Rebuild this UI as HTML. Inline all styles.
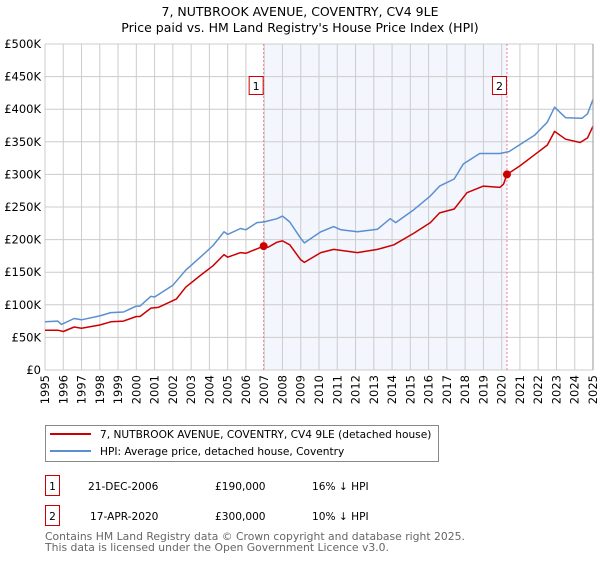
<!DOCTYPE html>
<html><head><meta charset="utf-8"><style>
body{margin:0;background:#fff;font-family:"DejaVu Sans","Liberation Sans",sans-serif;}
svg text{font-family:"DejaVu Sans","Liberation Sans",sans-serif;}
</style></head><body>
<svg id="chart" width="600" height="560" viewBox="0 0 600 560" xmlns="http://www.w3.org/2000/svg">
<text x="300" y="16" text-anchor="middle" font-size="12.5">7, NUTBROOK AVENUE, COVENTRY, CV4 9LE</text>
<text x="300" y="32" text-anchor="middle" font-size="12.5">Price paid vs. HM Land Registry's House Price Index (HPI)</text>
<g id="plot"></g>
<rect x="45.5" y="425.5" width="393" height="36" fill="#fff" stroke="#888"/>
<line x1="50" y1="434" x2="91" y2="434" stroke="#cc0000" stroke-width="2"/>
<text x="100" y="438" font-size="10.6">7, NUTBROOK AVENUE, COVENTRY, CV4 9LE (detached house)</text>
<line x1="50" y1="451" x2="91" y2="451" stroke="#5b8fd0" stroke-width="2"/>
<text x="100" y="455" font-size="10.6">HPI: Average price, detached house, Coventry</text>
<rect x="45.5" y="475.5" width="14" height="20" fill="#fff" stroke="#cc0000"/>
<text x="52.5" y="490" text-anchor="middle" font-size="10.6">1</text>
<text x="88" y="490" font-size="10.6">21-DEC-2006</text>
<text x="215" y="490" font-size="10.6">£190,000</text>
<text x="312" y="490" font-size="10.6">16% ↓ HPI</text>
<rect x="45.5" y="505.5" width="14" height="20" fill="#fff" stroke="#cc0000"/>
<text x="52.5" y="520" text-anchor="middle" font-size="10.6">2</text>
<text x="90" y="520" font-size="10.6">17-APR-2020</text>
<text x="215" y="520" font-size="10.6">£300,000</text>
<text x="312" y="520" font-size="10.6">10% ↓ HPI</text>
<text x="45" y="540" font-size="10.8" fill="#666">Contains HM Land Registry data © Crown copyright and database right 2025.</text>
<text x="45" y="551" font-size="10.8" fill="#666">This data is licensed under the Open Government Licence v3.0.</text>
</svg>
<script>
const yTicks=[0,50,100,150,200,250,300,350,400,450,500];
const yTickLabels=["£0","£50K","£100K","£150K","£200K","£250K","£300K","£350K","£400K","£450K","£500K"];
const xTicks=[1995,1996,1997,1998,1999,2000,2001,2002,2003,2004,2005,2006,2007,2008,2009,2010,2011,2012,2013,2014,2015,2016,2017,2018,2019,2020,2021,2022,2023,2024,2025];
const hpiYears=[1995,1995.7,1995.9,1996.6,1997,1998,1998.6,1999.3,2000,2000.2,2000.8,2001,2002,2002.7,2003.5,2004.2,2004.8,2005,2005.7,2006,2006.6,2006.97,2007.7,2008,2008.4,2009,2009.2,2010.1,2010.8,2011.2,2012.1,2013.2,2013.9,2014.2,2015.2,2016.1,2016.6,2017.4,2017.9,2018.8,2019.9,2020.4,2021.8,2022.5,2022.9,2023.5,2024.4,2024.7,2025];
const hpiValues=[74,75,70,79,77,83,88,89,98,98,113,112,130,153,173,191,212,208,217,215,226,227,232,236,227,202,195,212,220,215,212,216,232,226,246,267,282,293,316,332,332,335,360,380,403,387,386,393,415];
const priceYears=[1995,1995.7,1996,1996.6,1997,1998,1998.6,1999.3,2000,2000.2,2000.8,2001.2,2002.2,2002.7,2003.5,2004.2,2004.8,2005,2005.7,2006,2006.97,2007.2,2007.7,2008,2008.4,2009,2009.2,2010.1,2010.8,2012.1,2013.2,2014.1,2015.2,2016.1,2016.6,2017.4,2018.1,2019,2019.9,2020.1,2020.29,2021,2021.8,2022.5,2022.9,2023.5,2024.3,2024.7,2025];
const priceValues=[61,61,59,66,64,69,74,75,82,82,95,96,109,127,145,160,177,173,180,179,190,188,196,198,192,169,165,180,185,180,185,192,210,226,241,247,272,282,280,285,300,313,330,345,366,354,349,356,374];
const saleYears=[2006.97,2020.29];
const saleValues=[190,300];
const saleLabels=["1","2"];

const X0=45,X1=593,Y0=370,Y1=44;
const xs=y=>X0+(y-1995)/(2025-1995)*(X1-X0);
const ys=v=>Y0-v/500*(Y0-Y1);
const NS="http://www.w3.org/2000/svg";
const g=document.getElementById('plot');
function mk(t,a){const e=document.createElementNS(NS,t);for(const k in a)e.setAttribute(k,a[k]);g.appendChild(e);return e;}

let r=mk('rect',{x:xs(saleYears[0]),y:Y1,width:xs(saleYears[1])-xs(saleYears[0]),height:Y0-Y1,fill:'#f3f6fd'});



yTicks.forEach((v,i)=>{
 const l=mk('line',{x1:X0,x2:X1,y1:ys(v),y2:ys(v),stroke:'#cccccc','stroke-width':1});
 
 
 const t=mk('text',{x:X0-4,y:ys(v)+4,'text-anchor':'end','font-size':'11.5'});
 t.textContent=yTickLabels[i];
 
 
});
xTicks.forEach(yr=>{
 const l=mk('line',{x1:xs(yr),x2:xs(yr),y1:Y1,y2:Y0,stroke:'#cccccc','stroke-width':1});
 
 
 const t=mk('text',{x:0,y:0,'font-size':'11.5','text-anchor':'end',transform:`translate(${xs(yr)+4},${Y0+5}) rotate(-90)`});
 t.textContent=yr;
 
 
});
saleYears.forEach((yr,i)=>{
 const l=mk('line',{x1:xs(yr),x2:xs(yr),y1:Y1,y2:Y0,stroke:'#ee8090','stroke-width':1,'stroke-dasharray':'2,2'});
 
 
});
function path(xa,va,col,name){
 const d=xa.map((yr,i)=>(i?'L':'M')+xs(yr).toFixed(1)+','+ys(va[i]).toFixed(1)).join('');
 const p=mk('path',{d:d,fill:'none',stroke:col,'stroke-width':1.5,'stroke-linejoin':'round'});
 
 
}
path(hpiYears,hpiValues,'#5b8fd0','hpi-line');
path(priceYears,priceValues,'#cc0000','price-paid-line');
saleYears.forEach((yr,i)=>{
 const c=mk('circle',{cx:xs(yr),cy:ys(saleValues[i]),r:4,fill:'#cc0000'});
 
 
 const b=mk('rect',{x:xs(yr)-14.5,y:76.5,width:14,height:18,fill:'#fff',stroke:'#cc0000'});
 
 
 const t=mk('text',{x:xs(yr)-7.5,y:90,'text-anchor':'middle','font-size':'11'});
 t.textContent=saleLabels[i];
 
 
});
const ax=mk('line',{x1:X1,x2:X1,y1:Y1,y2:Y0,stroke:'#999','stroke-width':1});


</script>
</body></html>
